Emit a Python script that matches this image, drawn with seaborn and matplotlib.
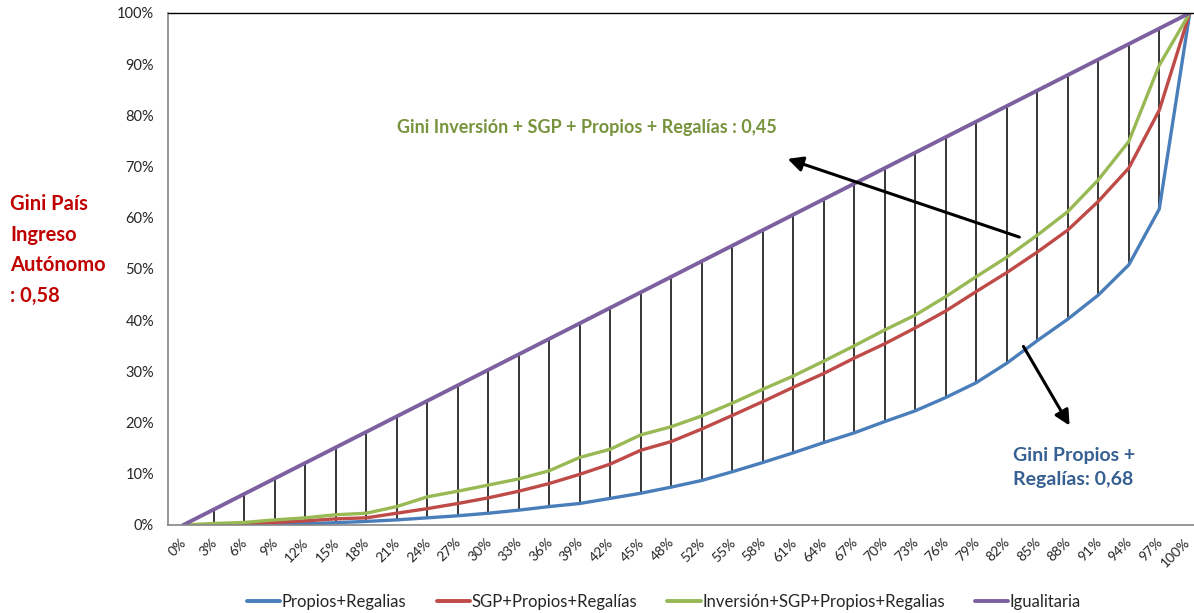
import matplotlib
matplotlib.use("Agg")
import matplotlib.pyplot as plt
import matplotlib.ticker as mticker
import matplotlib.transforms as mtransforms
from matplotlib.lines import Line2D
import numpy as np
import pandas as pd
import seaborn as sns

# population share labels (34 points)
x_labels = ["0%", "3%", "6%", "9%", "12%", "15%", "18%", "21%", "24%", "27%", "30%",
            "33%", "36%", "39%", "42%", "45%", "48%", "52%", "55%", "58%", "61%", "64%",
            "67%", "70%", "73%", "76%", "79%", "82%", "85%", "88%", "91%", "94%", "97%", "100%"]

# cumulative income share (%)
propios = [0.0, 0.05, 0.1, 0.15, 0.25, 0.45, 0.7, 1.0, 1.4, 1.8, 2.3, 2.9, 3.6, 4.2, 5.2,
           6.2, 7.4, 8.7, 10.4, 12.2, 14.1, 16.1, 18.0, 20.2, 22.3, 24.9, 27.8, 31.6, 36.0,
           40.2, 44.9, 50.8, 61.7, 100.0]
sgp = [0.0, 0.1, 0.3, 0.5, 0.8, 1.2, 1.4, 2.3, 3.2, 4.2, 5.3, 6.6, 8.1, 9.9, 11.9, 14.6,
       16.3, 18.75, 21.4, 24.1, 26.9, 29.6, 32.6, 35.4, 38.5, 41.8, 45.6, 49.3, 53.3, 57.6,
       63.2, 69.7, 81.0, 100.0]
inversion = [0.0, 0.3, 0.5, 1.0, 1.4, 2.0, 2.3, 3.6, 5.5, 6.6, 7.8, 9.0, 10.6, 13.2, 14.8,
             17.6, 19.2, 21.3, 23.8, 26.5, 29.1, 32.0, 35.0, 38.1, 41.0, 44.6, 48.5, 52.3,
             56.6, 61.2, 67.4, 74.9, 89.8, 100.0]
igualitaria = [0.0, 3.03, 6.06, 9.09, 12.12, 15.15, 18.18, 21.21, 24.24, 27.27, 30.3, 33.33,
               36.36, 39.39, 42.42, 45.45, 48.48, 51.52, 54.55, 57.58, 60.61, 63.64, 66.67,
               69.7, 72.73, 75.76, 78.79, 81.82, 84.85, 87.88, 90.91, 93.94, 96.97, 100.0]

series_names = ["Propios+Regalias", "SGP+Propios+Regalías",
                "Inversión+SGP+Propios+Regalias", "Igualitaria"]
series_values = [propios, sgp, inversion, igualitaria]
palette = {"Propios+Regalias": "#4A7EBB", "SGP+Propios+Regalías": "#BE4B48",
           "Inversión+SGP+Propios+Regalias": "#98B954", "Igualitaria": "#7D60A0"}

sns.set_style("white")
plt.rcParams["font.family"] = ["Lato", "DejaVu Sans"]

pos = np.arange(len(x_labels))
frames = []
for name, vals in zip(series_names, series_values):
    frames.append(pd.DataFrame({"pos": pos, "share": np.array(vals) / 100.0, "serie": name}))
df = pd.concat(frames, ignore_index=True)

fig = plt.figure(figsize=(11.94, 6.13), dpi=100)
ax = fig.add_axes([168 / 1194, 88 / 613, 1037 / 1194, 512 / 613])

# high-low lines between equality line and lowest curve
ax.vlines(pos, np.array(propios) / 100.0, np.array(igualitaria) / 100.0,
          color="black", linewidth=1.1, zorder=1.5)

sns.lineplot(data=df, x="pos", y="share", hue="serie", palette=palette,
             hue_order=series_names, sort=False, linewidth=2.4, ax=ax,
             legend=False, zorder=2)
ax.lines[-1].set_linewidth(2.8)

ax.set_xlim(-0.5, len(x_labels) - 0.5)
ax.set_ylim(0, 1)
ax.set_xlabel("")
ax.set_ylabel("")

ax.set_xticks(pos)
ax.set_xticklabels(x_labels, rotation=45, ha="right", rotation_mode="anchor", fontsize=10)
ax.set_xticks(np.arange(-0.5, len(x_labels), 1), minor=True)
ax.tick_params(axis="x", which="major", length=0, pad=8)
ax.tick_params(axis="x", which="minor", length=5, color="#868686", direction="out")
ax.set_yticks(np.arange(0, 1.01, 0.1))
ax.yaxis.set_major_formatter(mticker.PercentFormatter(1.0, decimals=0))
ax.tick_params(axis="y", length=5, color="#868686", direction="out", labelsize=10.5, pad=5)

# nudge rotated labels left so the last one stays inside the picture
shift = mtransforms.ScaledTranslation(-3 / 100, 0, fig.dpi_scale_trans)
last_shift = mtransforms.ScaledTranslation(-6 / 100, 0, fig.dpi_scale_trans)
tick_labels = ax.get_xticklabels()
for lab in tick_labels[:-1]:
    lab.set_transform(lab.get_transform() + shift)
tick_labels[-1].set_transform(tick_labels[-1].get_transform() + last_shift)

for side in ["left", "bottom"]:
    ax.spines[side].set_color("#868686")
    ax.spines[side].set_linewidth(1.2)
ax.spines["top"].set_color("black")
ax.spines["top"].set_linewidth(1.0)
ax.spines["right"].set_visible(False)

# annotations
fig.text(397 / 1194, (613 - 128) / 613, "Gini Inversión + SGP + Propios + Regalías : 0,45",
         color="#77933C", fontsize=13, fontweight="bold", va="center", ha="left")
fig.text(1013 / 1194, (613 - 467) / 613, "Gini Propios +\nRegalías: 0,68",
         color="#376092", fontsize=14, fontweight="bold", va="center", ha="left",
         linespacing=1.5)
fig.text(10 / 1194, (613 - 250) / 613, "Gini País\nIngreso\nAutónomo\n: 0,58",
         color="#C00000", fontsize=14.5, fontweight="bold", va="center", ha="left",
         linespacing=1.65)

arrow_kw = dict(arrowstyle="-|>,head_length=0.9,head_width=0.45", color="black", lw=2.2)
ax.annotate("", xy=(785, 613 - 158), xycoords="figure pixels",
            xytext=(1022, 613 - 238), textcoords="figure pixels", arrowprops=arrow_kw)
ax.annotate("", xy=(1071, 613 - 428), xycoords="figure pixels",
            xytext=(1022, 613 - 344), textcoords="figure pixels", arrowprops=arrow_kw)

handles = [Line2D([0], [0], color=palette[n], lw=2.8) for n in series_names]
fig.legend(handles, series_names, loc="center", bbox_to_anchor=(664 / 1194, 11 / 613),
           ncol=4, frameon=False, fontsize=12, handlelength=2.0, handletextpad=0.1,
           columnspacing=1.8)

fig.savefig("out.png", dpi=100)
